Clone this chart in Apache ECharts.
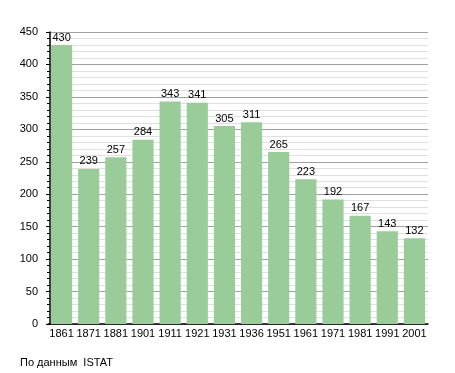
<!DOCTYPE html>
<html><head><meta charset="utf-8">
<script src="https://cdn.jsdelivr.net/npm/echarts@6/dist/echarts.min.js"></script>
<style>html,body{margin:0;padding:0;background:#fff}#c{width:455px;height:373px}</style>
</head><body><div id="c"></div>
<script>
const years = ['1861','1871','1881','1901','1911','1921','1931','1936','1951','1961','1971','1981','1991','2001'];
const population = [430,239,257,284,343,341,305,311,265,223,192,167,143,132];
const yTicks = {min:0, max:450, interval:50};
const note = 'По данным  ISTAT';

const chart = echarts.init(document.getElementById('c'), null, {renderer:'canvas'});
chart.setOption({
  animation:false,
  backgroundColor:'#fff',
  textStyle:{fontFamily:'Liberation Sans, Arial, sans-serif'},
  grid:{left:48, right:27, top:32, bottom:49, containLabel:false},
  graphic:[{type:'text', left:20, top:357, style:{text:note, fontSize:11, fill:'#000', fontFamily:'Liberation Sans, Arial, sans-serif'}}],
  xAxis:{type:'category', data:years,
    axisLine:{lineStyle:{color:'#000', width:1.5}},
    axisTick:{show:false},
    axisLabel:{color:'#000', fontSize:11, margin:4, interval:0}
  },
  yAxis:{type:'value', min:yTicks.min, max:yTicks.max, interval:yTicks.interval, offset:-2,
    axisLine:{show:true, lineStyle:{color:'#000', width:1.5}},
    axisTick:{show:true, inside:false, length:4, lineStyle:{color:'#000'}},
    minorTick:{show:true, splitNumber:5, length:3, lineStyle:{color:'#000'}},
    splitLine:{show:true, lineStyle:{color:'#a0a0a0', width:1}},
    minorSplitLine:{show:true, lineStyle:{color:'#e0e0e0', width:1}},
    axisLabel:{color:'#000', fontSize:11, margin:12}
  },
  series:[{type:'bar', data:population, barCategoryGap:'22%',
    itemStyle:{color:'#99cc99'},
    label:{show:true, position:'top', color:'#000', fontSize:11, distance:2}
  }]
});
</script></body></html>
